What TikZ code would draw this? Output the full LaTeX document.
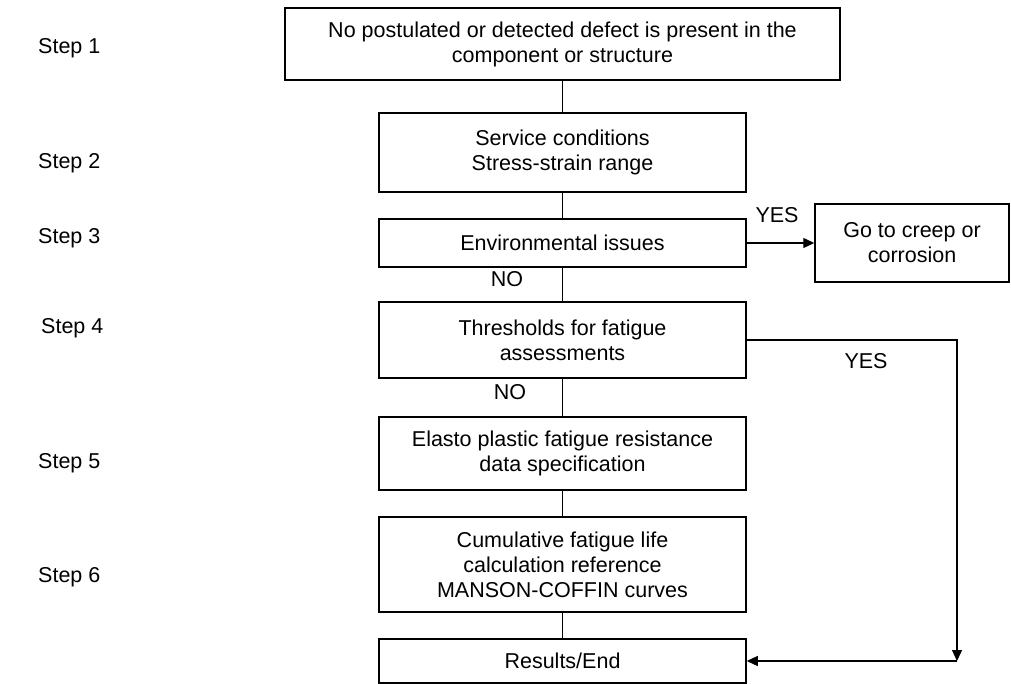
\documentclass[tikz,border=0pt]{standalone}
\usepackage{fontspec}
\setmainfont{Liberation Sans}
\usetikzlibrary{arrows.meta}
\begin{document}
\begin{tikzpicture}[x=1pt,y=-1pt,
  every node/.style={font=\fontsize{21.5}{25}\selectfont, inner sep=0pt},
  box/.style={draw, line width=1.5pt, align=center, minimum width=367pt},
  link/.style={line width=1.3pt},
  arr/.style={line width=1.3pt, -{Triangle[length=11pt,width=10pt]}},
  lbl/.style={anchor=center},
  steplbl/.style={anchor=west}]
\useasboundingbox (0,0) rectangle (1011,684);

% main chain of boxes
\node[box, minimum width=555pt, minimum height=72pt] (b1) at (562.5,44)
  {No postulated or detected defect is present in the\\component or structure};
\node[box, minimum height=79pt] (b2) at (562.5,152.5) {Service conditions\\Stress-strain range};
\node[box, minimum height=48pt] (b3) at (562.5,243) {Environmental issues};
\node[box, minimum width=194pt, minimum height=78pt] (cr) at (912,243) {Go to creep or\\corrosion};
\node[box, minimum height=76pt] (b4) at (562.5,340) {Thresholds for fatigue\\assessments};
\node[box, minimum height=73pt] (b5) at (562.5,453.5) {Elasto plastic fatigue resistance\\data specification};
\node[box, minimum height=95pt] (b6) at (562.5,564.5) {Cumulative fatigue life\\calculation reference\\MANSON-COFFIN curves};
\node[box, minimum height=44pt] (res) at (562.5,661) {Results/End};

% vertical connectors
\draw[link] (b1) -- (b2);
\draw[link] (b2) -- (b3);
\draw[link] (b3) -- (b4);
\draw[link] (b4) -- (b5);
\draw[link] (b5) -- (b6);
\draw[link] (b6) -- (res);

% side branches
\draw[arr] (b3.east) -- (cr.west);
\coordinate (corner) at (957,661);
\draw[arr] (b4.east) -| (corner);
\draw[arr] (corner) -- (res.east);

% branch labels
\node[lbl] (y1) at (777,215) {YES};
\node[lbl] (y2) at (866,361) {YES};
\node[lbl] (n1) at (507,279) {NO};
\node[lbl] (n2) at (510,392) {NO};

% step labels
\node[steplbl] (s1) at (38,48) {Step 1};
\node[steplbl] (s2) at (38,163) {Step 2};
\node[steplbl] (s3) at (38,238) {Step 3};
\node[steplbl] (s4) at (41,328) {Step 4};
\node[steplbl] (s5) at (38,463) {Step 5};
\node[steplbl] (s6) at (38,577) {Step 6};
\end{tikzpicture}
\end{document}
